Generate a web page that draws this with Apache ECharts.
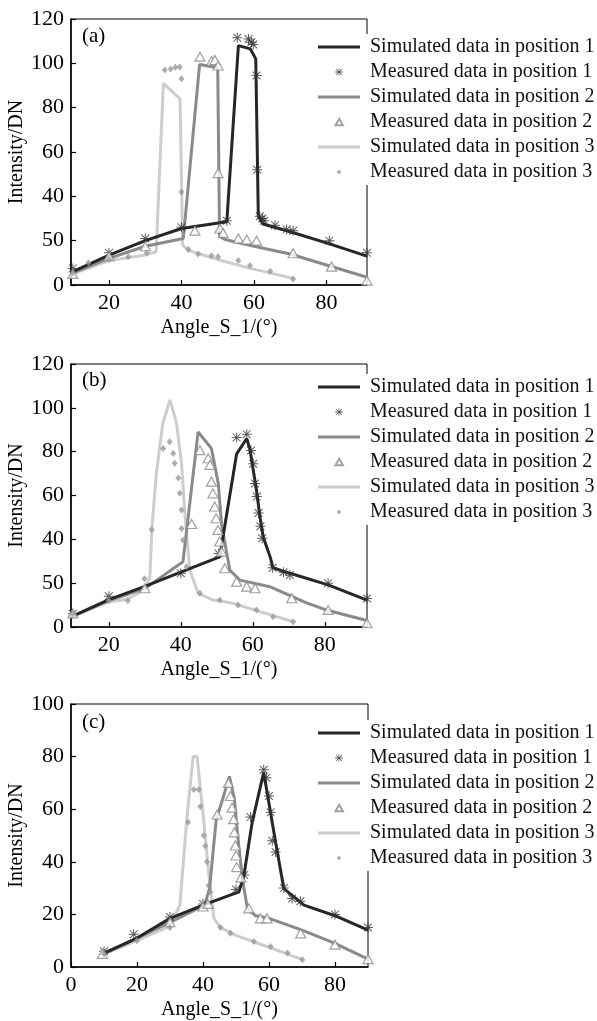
<!DOCTYPE html>
<html><head><meta charset="utf-8">
<script src="https://cdn.jsdelivr.net/npm/echarts@6/dist/echarts.min.js"></script>
<style>html,body{margin:0;padding:0;background:#fff;}#c{width:597px;height:1021px;}</style>
</head><body><div id="c"></div>
<script>
// ---------- data ----------
const seriesNames = ['Simulated data in position 1','Measured data in position 1','Simulated data in position 2','Measured data in position 2','Simulated data in position 3','Measured data in position 3'];
const panelLabels = ['(a)','(b)','(c)'];
const xAxisName = 'Angle_S_1/(°)';
const yAxisName = 'Intensity/DN';
const xTicksAB = [20,40,60,80];
const xTicksC = [0,20,40,60,80];
const yTicksAB = [0,20,40,60,80,100,120];
const yLabelsAB = ['0','50','40','60','80','100','120'];
const yTicksC = [0,20,40,60,80,100];
const yLabelsC = ['0','20','40','60','80','100'];

// panel (a)
const simA1 = [[10,6],[20,13.5],[30,20],[40,25.5],[52.5,28.5],[55.7,108],[59,106.5],[60.5,102],[61.2,31],[62.5,27.5],[70,24],[80,19],[91.2,13]];
const measA1 = [[10,7.5],[20,14.5],[30,21],[40,26],[52.5,29],[55.4,111.5],[58.5,111],[59.3,109.5],[59.8,108.5],[60.7,94.5],[60.9,52],[61.6,31],[62.3,30],[62.8,29],[65.8,27],[69,25],[70.8,24.5],[80.8,20],[91.2,14.5]];
const simA2 = [[10,5.5],[20,12],[30,17.5],[40.5,21],[45,99.5],[50,98],[50.5,22],[52,20.5],[60,17.5],[70,14],[80,9],[91.2,3.5]];
const measA2 = [[10,5],[20,13],[30,17.5],[43.7,24.5],[45.1,103],[48.3,101],[49.2,101.5],[50.1,99],[50.1,50.5],[50.6,25.5],[51.5,23.5],[55.7,21],[58,20.5],[60.7,20],[70.8,14.3],[81.4,8.3],[91.2,2]];
const simA3 = [[10,5],[20,11],[30,13.5],[33,15],[35,91],[39.6,84],[40.3,18],[42,15.5],[50,11.5],[59,7.5],[70.8,3]];
const measA3 = [[10,5.5],[14.3,10],[20,11.5],[25.3,12.8],[30.4,14.5],[35.4,97],[37,97.5],[38.3,98.2],[39.5,98.4],[40,93],[40,42],[41.9,16],[44.6,14],[48.3,13.2],[50.1,12.8],[55.7,11],[58.9,8.8],[64.5,6.2],[70.8,2.7]];

// panel (b)
const simB1 = [[10,5],[20,12.5],[30,18.5],[40,25],[50.8,32],[55.5,79],[58.3,86],[59.2,81],[61,62.5],[62,50],[62.9,41],[64.8,32],[65.6,27],[70.3,24.5],[80.9,19.2],[91.7,12.3]];
const measB1 = [[10,6],[20,14],[40,24.5],[50.5,33.5],[55.5,86.5],[58.3,88],[59.5,80.5],[60.1,74.5],[60.6,65.5],[61.1,59.5],[61.6,52],[62.1,46],[62.6,40.5],[65.5,27],[68.5,25],[70.3,23.7],[80.9,20],[91.7,13]];
const simB2 = [[10,5],[20,12],[30,17.5],[40.6,29.8],[44.8,89],[48.5,81.5],[50.4,65.5],[51.3,47],[53.6,26],[56.4,21.4],[64.7,18.4],[74.9,11],[80.9,7.5],[91.7,3]];
const measB2 = [[10,6.2],[30,17.7],[43,47],[45.3,80.7],[47.6,77],[48.1,74],[48.5,66.3],[48.9,61],[49.4,55],[49.8,49.6],[50.3,44.3],[50.8,39],[51.3,34.4],[52.2,26.8],[55.5,20.7],[58.3,18.4],[60.6,17.7],[70.8,13.1],[80.9,7.8],[91.7,1.7]];
const simB3 = [[10,5],[20,11.5],[25,12.5],[30,17],[31.4,23],[32,45.8],[33.2,70],[35,93],[37,103.6],[38.8,93],[40.2,74.7],[41.1,52],[42.5,26],[44.8,15.4],[49,12.3],[54.5,10.8],[71.2,2.4]];
const measB3 = [[10,6],[20,12],[25.3,12],[29.9,22],[31.9,44.5],[35.1,81.5],[36.9,84.5],[37.9,79.2],[38.3,74.7],[39.3,68],[39.7,61],[40.2,53.4],[40.2,45],[40.6,39.7],[41.6,27.5],[45.3,15.4],[50.8,12.3],[55.9,10],[61,7.8],[65.6,4.7],[71.2,2.4]];

// panel (c)
const simC1 = [[10,5.3],[20,11],[30,18.5],[40,23.5],[50.9,28.6],[52.4,34.8],[54.9,55],[58.4,74],[62,47.4],[64.5,29.8],[70.6,23.5],[80,19.5],[90,14]];
const measC1 = [[10,6],[19,12.5],[30,19],[40,24],[50,29.5],[52.5,35],[54.4,57],[58.4,75],[59.2,72],[60,65],[60.5,58.8],[61,48],[62,43.7],[64.5,30],[67,26],[69.5,25],[80,20],[90,15]];
const simC2 = [[10,5],[20,11],[30,17],[40.5,23.5],[42,30],[44,56],[46,64],[48,72.5],[49.5,64],[50.5,50],[52,33],[53.5,22],[56,19.5],[60,18.5],[70,14],[80,9],[90,3]];
const measC2 = [[9.5,5],[30,17],[40,23],[41.5,24],[44.3,58],[47.7,70],[48.3,65],[48.8,60.6],[49.3,56.2],[49.5,51.2],[49.8,46.2],[50,42.4],[50.2,38],[51.5,34],[53.9,22.3],[57.4,18.5],[59.4,18.5],[69.6,12.8],[80,8.5],[90,3]];
const simC3 = [[10,5],[20,10],[30,15.5],[33,23.5],[35,55],[37,80],[38.2,80],[40.2,56],[41.7,36],[43.3,18.5],[45.3,15],[50,12],[60,7.5],[70.1,2.8]];
const measC3 = [[10,5],[20,10],[30,15],[35.5,55],[37.2,67.5],[38.7,67.5],[39.2,61],[40.2,50],[40.7,46],[41.2,40],[41.7,31],[42.2,28.5],[45.3,15],[48.3,12.8],[55.4,9.7],[60.5,7.8],[65.6,5.3],[70.1,2.8]];

// ---------- chart ----------
const FONT = 'Liberation Serif';
const panels = [
  {sets:[simA1,measA1,simA2,measA2,simA3,measA3], top:19, height:266, right:230, xMin:9.5, xMax:91.2, xTicks:xTicksAB, yMax:120, yTicks:yTicksAB, yLabels:yLabelsAB, legTop:34, labY:37},
  {sets:[simB1,measB1,simB2,measB2,simB3,measB3], top:364, height:263, right:230, xMin:9.5, xMax:91.7, xTicks:xTicksAB, yMax:120, yTicks:yTicksAB, yLabels:yLabelsAB, legTop:374, labY:381},
  {sets:[simC1,measC1,simC2,measC2,simC3,measC3], top:704, height:265, right:229, xMin:0, xMax:90, xTicks:xTicksC, yMax:100, yTicks:yTicksC, yLabels:yLabelsC, legTop:720, labY:723}
];
const lineColors = ['#262626','#8a8a8a','#cdcdcd'];
const asterisk = 'path://M9 0L11 0L11 20L9 20Z M0 9L20 9L20 11L0 11Z M2.9 1.5L18.5 17.1L17.1 18.5L1.5 2.9Z M17.1 1.5L18.5 2.9L2.9 18.5L1.5 17.1Z';
const measStyles = [
  {symbol: asterisk, symbolSize: 10, itemStyle:{color:'#333'}},
  {symbol: 'triangle', symbolSize: [10,9], itemStyle:{color:'#fff', borderColor:'#8a8a8a', borderWidth:1.2}},
  {symbol: 'diamond', symbolSize: [6,7], itemStyle:{color:'#999'}}
];
// legend icons (padded so they keep a small size inside the icon box)
const iconLine = 'path://M0 0H42V3H0Z';
const iconStar = 'path://M-3 -3M23 23M9 0L11 0L11 20L9 20Z M0 9L20 9L20 11L0 11Z M2.9 1.5L18.5 17.1L17.1 18.5L1.5 2.9Z M17.1 1.5L18.5 2.9L2.9 18.5L1.5 17.1Z';
const iconTri = 'path://M0 -1M0 11M5 1L9.5 9L0.5 9Z';
const iconDia = 'path://M0 0M10 10M5 2.5L7.3 5L5 7.5L2.7 5Z';
const legendIcons = [iconLine, iconStar, iconLine, iconTri, iconLine, iconDia];

const grid = [], xAxis = [], yAxis = [], series = [], legend = [], graphic = [];
panels.forEach((p, i) => {
  grid.push({left:71, right:p.right, top:p.top, height:p.height, show:true, borderColor:'#000', borderWidth:1, backgroundColor:'transparent'});
  xAxis.push({
    type:'value', gridIndex:i, min:p.xMin, max:p.xMax,
    name:xAxisName, nameLocation:'middle', nameGap:33,
    nameTextStyle:{fontFamily:FONT, fontSize:20, color:'#000'},
    axisLine:{show:true, onZero:false, lineStyle:{color:'#000', width:1.5}},
    axisTick:{show:true, inside:true, length:5, customValues:p.xTicks, lineStyle:{color:'#000', width:1.2}},
    axisLabel:{customValues:p.xTicks, fontFamily:FONT, fontSize:22, color:'#000', margin:7},
    splitLine:{show:false}
  });
  yAxis.push({
    type:'value', gridIndex:i, min:0, max:p.yMax, interval:20,
    name:yAxisName, nameLocation:'middle', nameGap:42, nameRotate:90,
    nameTextStyle:{fontFamily:FONT, fontSize:20, color:'#000'},
    axisLine:{show:true, onZero:false, lineStyle:{color:'#000', width:1.5}},
    axisTick:{show:true, inside:true, length:5, lineStyle:{color:'#000', width:1.2}},
    axisLabel:{fontFamily:FONT, fontSize:22, color:'#000', margin:7,
      formatter:(v)=>{const k=p.yTicks.indexOf(v); return k>=0 ? p.yLabels[k] : '';}},
    splitLine:{show:false}
  });
  for (let s = 0; s < 3; s++) {
    series.push({
      name:seriesNames[2*s], type:'line', xAxisIndex:i, yAxisIndex:i,
      data:p.sets[2*s], symbol:'none', showSymbol:false,
      lineStyle:{color:lineColors[s], width:3}, itemStyle:{color:lineColors[s]},
      z: 2 + (2 - s) * 0.1, silent:true
    });
    const ms = measStyles[s];
    series.push(Object.assign({
      name:seriesNames[2*s+1], type:'scatter', xAxisIndex:i, yAxisIndex:i,
      data:p.sets[2*s+1], z:3, silent:true
    }, ms));
  }
  legend.push({
    orient:'vertical', left:314, top:p.legTop, padding:[3,4,3,4], backgroundColor:'#fff',
    itemWidth:42, itemHeight:10, itemGap:5, selectedMode:false,
    data:seriesNames.map((n, k) => ({name:n, icon:legendIcons[k]})),
    textStyle:{fontFamily:FONT, fontSize:20, lineHeight:20, color:'#111', padding:[0,0,0,5]}
  });
  graphic.push({type:'text', left:82, top:p.labY - 11, style:{text:panelLabels[i], fontFamily:FONT, fontSize:21, fill:'#000'}, z:10});
});

const chart = echarts.init(document.getElementById('c'), null, {renderer:'canvas'});
chart.setOption({animation:false, backgroundColor:'#fff', grid, xAxis, yAxis, series, legend, graphic});
</script>
</body></html>
